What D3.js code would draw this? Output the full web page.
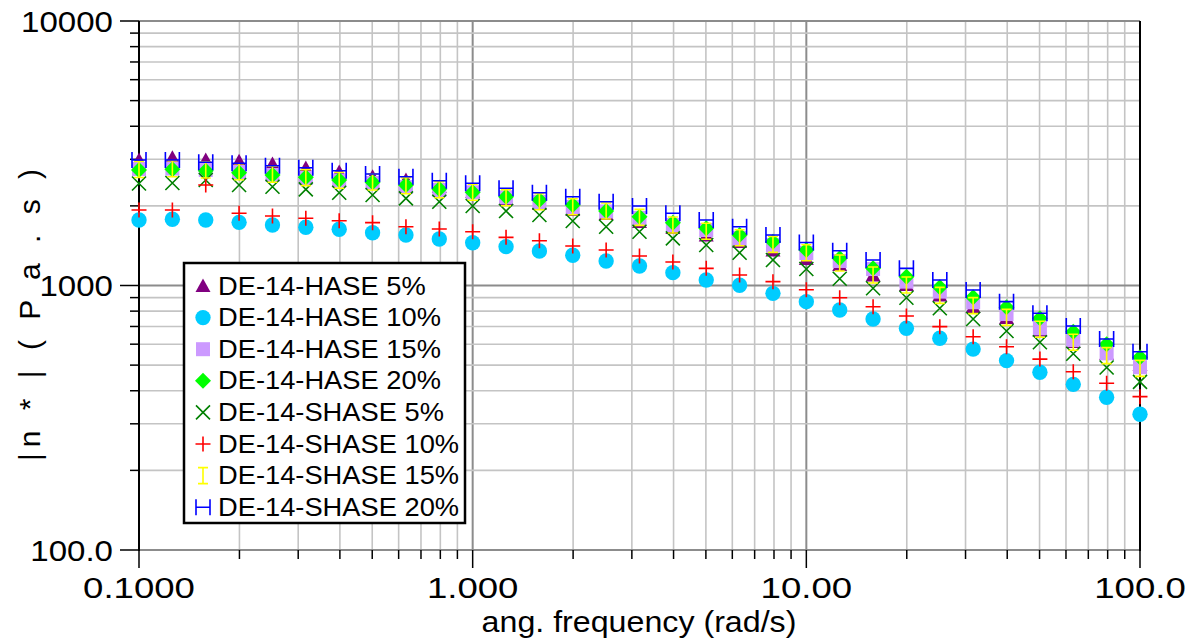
<!DOCTYPE html>
<html>
<head>
<meta charset="utf-8">
<script src="https://cdn.jsdelivr.net/npm/d3@7"></script>
<style>
  body { margin: 0; background: #fff; }
  svg { display: block; font-family: "Liberation Sans", Arial, sans-serif; }
</style>
</head>
<body>
<svg id="chart" width="1191" height="642"></svg>
<script>
// angular frequency (rad/s), 5 points per decade
const freq = [0.1, 0.1259, 0.1585, 0.1995, 0.2512, 0.3162, 0.3981, 0.5012, 0.631, 0.7943,
  1, 1.259, 1.585, 1.995, 2.512, 3.162, 3.981, 5.012, 6.31, 7.943,
  10, 12.59, 15.85, 19.95, 25.12, 31.62, 39.81, 50.12, 63.1, 79.43, 100];

// |n*| (Pa.s)
const hase5 = [2983,3042,2983,2950,2880,2781,2686,2578,2505,2357,2257,2123,2033,1929,1864,1739,1650,1545,1460,1356,1260,1195,1091,1004,917,829,754,676,612,551,500];
const hase10 = [1768,1780,1768,1733,1693,1660,1632,1583,1552,1499,1451,1402,1350,1301,1238,1185,1118,1049,1002,934,869,808,747,689,632,575,520,470,423,378,326];
const hase15 = [2757,2768,2734,2686,2617,2550,2495,2441,2357,2296,2251,2155,2069,1981,1905,1800,1693,1621,1512,1423,1327,1238,1154,1034,948,864,780,689,622,554,491];
const hase20 = [2734,2750,2716,2670,2617,2565,2505,2456,2399,2316,2251,2166,2105,2015,1912,1820,1728,1645,1552,1464,1362,1267,1161,1080,985,902,827,752,669,600,535];
const shase5 = [2430,2440,2505,2399,2363,2310,2243,2199,2136,2074,1998,1912,1847,1754,1668,1597,1508,1423,1330,1249,1154,1061,976,899,820,747,673,610,552,490,432];
const shase10 = [1929,1929,2399,1875,1831,1795,1758,1728,1668,1635,1597,1521,1477,1411,1362,1293,1227,1161,1096,1034,964,899,831,767,699,640,587,527,472,427,380];
const shase15 = [2745,2764,2734,2693,2633,2557,2499,2462,2384,2302,2251,2147,2074,1986,1912,1810,1693,1603,1516,1431,1330,1216,1096,1004,918,839,758,683,610,543,486];
const shase20 = [2982,2982,2923,2897,2838,2788,2716,2641,2578,2490,2435,2331,2243,2166,2074,1998,1875,1768,1668,1552,1454,1354,1249,1161,1049,962,869,785,703,628,562];

const seriesNames = ['DE-14-HASE 5%', 'DE-14-HASE 10%', 'DE-14-HASE 15%', 'DE-14-HASE 20%',
  'DE-14-SHASE 5%', 'DE-14-SHASE 10%', 'DE-14-SHASE 15%', 'DE-14-SHASE 20%'];
const seriesValues = [hase5, hase10, hase15, hase20, shase5, shase10, shase15, shase20];

const xTickLabels = ['0.1000', '1.000', '10.00', '100.0'];
const yTickLabels = ['100.0', '1000', '10000'];

const svg = d3.select('#chart');
const plotLeft = 139, plotRight = 1140, plotTop = 21, plotBottom = 550;

const x = d3.scaleLog().domain([0.1, 100]).range([plotLeft, plotRight]);
const y = d3.scaleLog().domain([100, 10000]).range([plotBottom, plotTop]);

// marker drawing: filled or stroked paths around (0,0)
const markers = [
  { path: 'M0,-7.5L7.5,6L-7.5,6Z', fill: '#800080', stroke: 'none' },
  { path: d3.symbol(d3.symbolCircle, 185)(), fill: '#00ccff', stroke: 'none' },
  { path: 'M-7,-7H7V7H-7Z', fill: '#cc99ff', stroke: 'none' },
  { path: 'M0,-8L8,0L0,8L-8,0Z', fill: '#00ff00', stroke: 'none' },
  { path: 'M-7,-7L7,7M7,-7L-7,7', fill: 'none', stroke: '#008000' },
  { path: 'M-7.5,0H7.5M0,-7.5V7.5', fill: 'none', stroke: '#ff0000' },
  { path: 'M-5,-8H5M0,-8V8M-5,8H5', fill: 'none', stroke: '#ffff00' },
  { path: 'M-7,-8V8M7,-8V8M-7,0H7', fill: 'none', stroke: '#0000ff' }
];

// grid lines
const gridX = [], gridY = [];
[0.1, 1, 10].forEach(d => { for (let k = 1; k <= 9; k++) gridX.push({ v: d * k, major: k === 1 }); });
gridX.push({ v: 100, major: true });
[100, 1000].forEach(d => { for (let k = 1; k <= 9; k++) gridY.push({ v: d * k, major: k === 1 }); });
gridY.push({ v: 10000, major: true });

svg.append('g').selectAll('line').data(gridX).join('line')
  .attr('x1', d => x(d.v)).attr('x2', d => x(d.v))
  .attr('y1', plotTop).attr('y2', plotBottom)
  .attr('stroke', d => d.major ? '#8c8c8c' : '#c4c4c4')
  .attr('stroke-width', d => d.major ? 2 : 1.6);
svg.append('g').selectAll('line').data(gridY).join('line')
  .attr('x1', plotLeft).attr('x2', plotRight)
  .attr('y1', d => y(d.v)).attr('y2', d => y(d.v))
  .attr('stroke', d => d.major ? '#8c8c8c' : '#c4c4c4')
  .attr('stroke-width', d => d.major ? 2 : 1.6);

// axis lines
svg.append('line').attr('x1', plotLeft).attr('x2', plotLeft).attr('y1', plotTop).attr('y2', plotBottom + 1)
  .attr('stroke', '#000').attr('stroke-width', 2);
svg.append('line').attr('x1', plotRight).attr('x2', plotRight).attr('y1', plotTop).attr('y2', plotBottom + 1)
  .attr('stroke', '#000').attr('stroke-width', 2);

// ticks
svg.append('g').selectAll('line').data(gridY).join('line')
  .attr('x1', d => d.major ? plotLeft - 19 : plotLeft - 9).attr('x2', plotLeft)
  .attr('y1', d => y(d.v)).attr('y2', d => y(d.v))
  .attr('stroke', '#000').attr('stroke-width', 1.5);
svg.append('g').selectAll('line').data(gridX).join('line')
  .attr('x1', d => x(d.v)).attr('x2', d => x(d.v))
  .attr('y1', plotBottom).attr('y2', d => d.major ? plotBottom + 18 : plotBottom + 9)
  .attr('stroke', '#000').attr('stroke-width', 1.5);

// tick labels
const xMajor = gridX.filter(d => d.major);
svg.append('g').selectAll('text').data(xMajor).join('text')
  .attr('transform', d => `translate(${x(d.v)},598) scale(1.22,1)`)
  .attr('text-anchor', 'middle').attr('font-size', 30)
  .text((d, i) => xTickLabels[i]);
const yMajor = gridY.filter(d => d.major);
svg.append('g').selectAll('text').data(yMajor).join('text')
  .attr('transform', d => `translate(113,${y(d.v) + 10.5}) scale(1.14,1)`)
  .attr('text-anchor', 'end').attr('font-size', 29)
  .text((d, i) => yTickLabels[i]);

// axis titles
svg.append('text').attr('transform', 'translate(639,632) scale(1.11,1)')
  .attr('text-anchor', 'middle').attr('font-size', 29)
  .text('ang. frequency (rad/s)');
svg.append('text').attr('transform', 'translate(40,312) rotate(-90)')
  .attr('text-anchor', 'middle').attr('font-size', 30)
  .attr('letter-spacing', 6)
  .text('|n * |  ( P a . s )');

// data markers
seriesValues.forEach((vals, s) => {
  const m = markers[s];
  svg.append('g').selectAll('path').data(vals).join('path')
    .attr('transform', (d, i) => `translate(${x(freq[i])},${y(d)})`)
    .attr('d', m.path).attr('fill', m.fill)
    .attr('stroke', m.stroke).attr('stroke-width', 1.6);
});

// legend
const lg = svg.append('g');
lg.append('rect').attr('x', 184).attr('y', 263).attr('width', 281).attr('height', 260)
  .attr('fill', '#fff').attr('stroke', '#000').attr('stroke-width', 2.5);
seriesNames.forEach((name, i) => {
  const cy = 286 + i * 31.6;
  const m = markers[i];
  lg.append('path').attr('transform', `translate(203,${cy})`)
    .attr('d', m.path).attr('fill', m.fill)
    .attr('stroke', m.stroke).attr('stroke-width', 1.6);
  lg.append('text').attr('transform', `translate(218,${cy + 8.5}) scale(1.05,1)`)
    .attr('font-size', 26).text(name);
});
</script>
</body>
</html>
